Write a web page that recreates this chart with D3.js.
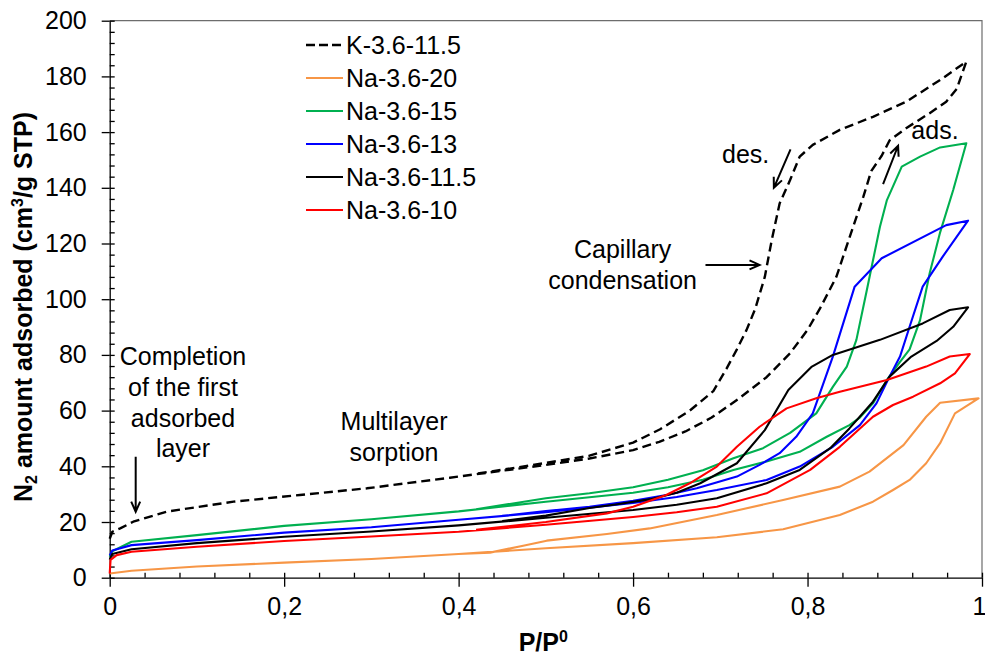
<!DOCTYPE html>
<html>
<head>
<meta charset="utf-8">
<script src="https://cdn.jsdelivr.net/npm/d3@7"></script>
<style>
  body { margin: 0; background: #fff; }
  svg text { font-family: "Liberation Sans", Arial, sans-serif; fill: #000; }
</style>
</head>
<body>
<div id="chart"></div>
<script>
// series names, in legend order
var seriesNames = ["K-3.6-11.5", "Na-3.6-20", "Na-3.6-15", "Na-3.6-13", "Na-3.6-11.5", "Na-3.6-10"];
var seriesColors = ["#000000", "#f79646", "#00b050", "#0000ff", "#000000", "#ff0000"];

// [P/P0, N2 adsorbed] : adsorption branch up to the top, then desorption branch back down
var k_3_6_11_5 = [
    [0, 14], [0.003, 16.5], [0.012, 17.7], [0.027, 20.1], [0.065, 23.7], [0.142, 27.3], [0.218, 29.7],
    [0.295, 32.1], [0.39, 35.9], [0.5, 40.5], [0.55, 42.8], [0.6, 45.8], [0.63, 48.8], [0.66, 52.5],
    [0.69, 57.5], [0.72, 64], [0.753, 72], [0.78, 80.6], [0.8, 89], [0.814, 96.5], [0.833, 108],
    [0.848, 122], [0.864, 136.8], [0.873, 146], [0.885, 151.5], [0.894, 157], [0.913, 161.4],
    [0.94, 166.8], [0.959, 170.9], [0.971, 175.5], [0.982, 185.3],
    [0.952, 178.7], [0.913, 170.9], [0.875, 165.5], [0.837, 160.8], [0.806, 155.4], [0.791, 151.2],
    [0.78, 142.8], [0.768, 134.4], [0.759, 121.3], [0.751, 108], [0.74, 96.5], [0.73, 88.9],
    [0.719, 82], [0.707, 75], [0.692, 67], [0.665, 60], [0.631, 53.3], [0.6, 48.5], [0.55, 43.8],
    [0.5, 41.2], [0.42, 37.3]
];
var na_3_6_20 = [
    [0, 1.5], [0.025, 2.5], [0.1, 4], [0.2, 5.4], [0.3, 6.7], [0.4, 8.5], [0.5, 10.6], [0.6, 12.4],
    [0.696, 14.5], [0.772, 17.4], [0.837, 22.5], [0.875, 27.3], [0.898, 31.5], [0.917, 35.1],
    [0.936, 41.1], [0.952, 48.3], [0.969, 59], [0.996, 64.4],
    [0.952, 62.8], [0.936, 57.8], [0.91, 47.6], [0.871, 38.1], [0.837, 32.7], [0.772, 27.9],
    [0.696, 22.5], [0.619, 17.7], [0.57, 15.7], [0.501, 13.3], [0.474, 11.5], [0.436, 9], [0.4, 8.5]
];
var na_3_6_15 = [
    [0, 7.5], [0.003, 9.5], [0.025, 12.9], [0.1, 15.3], [0.2, 18.6], [0.3, 21], [0.4, 23.8],
    [0.5, 27.3], [0.6, 30.5], [0.64, 32.5], [0.68, 35.2], [0.715, 38.7], [0.753, 41.7], [0.791, 45.2],
    [0.822, 50.6], [0.848, 54.8], [0.86, 57.5], [0.875, 62.6], [0.891, 71], [0.906, 77.5], [0.917, 82],
    [0.929, 92.5], [0.94, 109.3], [0.952, 124], [0.967, 139.2], [0.982, 156],
    [0.952, 154.5], [0.929, 151.2], [0.908, 147.6], [0.891, 135.6], [0.883, 126], [0.868, 103.3],
    [0.856, 85.4], [0.845, 75.8], [0.829, 68.5], [0.81, 59], [0.78, 52], [0.749, 46.5], [0.715, 42.9],
    [0.68, 38.6], [0.64, 35.2], [0.6, 32.5], [0.55, 30.3], [0.5, 28.5], [0.42, 24.6]
];
var na_3_6_13 = [
    [0, 8], [0.003, 9.8], [0.025, 11.7], [0.1, 13.5], [0.2, 16.2], [0.3, 18.1], [0.4, 20.8],
    [0.5, 23.5], [0.6, 26.8], [0.65, 29], [0.696, 31.5], [0.753, 35.1], [0.791, 39.9], [0.829, 47],
    [0.86, 54.8], [0.879, 62.6], [0.894, 72.2], [0.906, 79.4], [0.917, 90.1], [0.932, 104.5],
    [0.955, 115.3], [0.984, 128.2],
    [0.959, 126.6], [0.885, 114.7], [0.854, 104.5], [0.829, 79.4], [0.806, 59], [0.787, 50.6],
    [0.768, 44.7], [0.745, 40.5], [0.719, 36.3], [0.673, 32.1], [0.64, 29.8], [0.6, 27.6],
    [0.55, 25.5], [0.5, 23.9], [0.45, 22.2]
];
var na_3_6_11_5 = [
    [0, 6.5], [0.003, 8.5], [0.025, 10.2], [0.1, 12.4], [0.2, 14.7], [0.3, 16.6], [0.4, 18.8],
    [0.5, 21.5], [0.6, 24.3], [0.65, 26.2], [0.696, 28.5], [0.753, 33.9], [0.791, 38.7], [0.826, 46.5],
    [0.848, 53.6], [0.875, 63.2], [0.894, 72.2], [0.919, 79.4], [0.948, 85], [0.967, 90.1],
    [0.984, 97.1],
    [0.963, 96.1], [0.932, 91.3], [0.883, 85.4], [0.829, 80], [0.805, 75.8], [0.778, 67.4],
    [0.751, 53], [0.719, 41.1], [0.677, 33.9], [0.65, 30.5], [0.62, 28.2], [0.58, 26.3],
    [0.55, 25], [0.5, 22.3], [0.45, 20.3]
];
var na_3_6_10 = [
    [0, 1.5], [0.001, 6.4], [0.008, 8.1], [0.025, 9.3], [0.1, 11.1], [0.2, 13.2], [0.3, 14.8],
    [0.4, 16.5], [0.5, 19], [0.6, 21.8], [0.65, 23.5], [0.696, 25.5], [0.753, 30.3], [0.803, 38.7],
    [0.837, 47], [0.875, 57.8], [0.898, 62], [0.921, 65], [0.952, 69.8], [0.969, 73.4], [0.986, 80.3],
    [0.963, 79.4], [0.936, 75.8], [0.891, 71], [0.837, 66.8], [0.81, 64.4], [0.776, 60.8],
    [0.745, 54.2], [0.719, 47], [0.696, 39.9], [0.665, 33.9], [0.638, 29.7], [0.6, 25.5],
    [0.57, 23.1], [0.5, 20], [0.42, 17.2]
];
var seriesData = [k_3_6_11_5, na_3_6_20, na_3_6_15, na_3_6_13, na_3_6_11_5, na_3_6_10];

// tick values
var xMajor = [0, 0.2, 0.4, 0.6, 0.8, 1];
var xTickLabels = ["0", "0,2", "0,4", "0,6", "0,8", "1"];
var yMajor = [0, 20, 40, 60, 80, 100, 120, 140, 160, 180, 200];

var width = 985, height = 657;
var plotL = 109.7, plotR = 982, plotT = 20.7, plotB = 577.7;

var svg = d3.select("#chart")
    .append("svg")
    .attr("width", width)
    .attr("height", height);

var x = d3.scaleLinear().domain([0, 1]).range([plotL, plotR]);
var y = d3.scaleLinear().domain([0, 200]).range([plotB, plotT]);

var xMinor = d3.range(0, 1.0001, 0.04);
var yMinor = d3.range(0, 200.01, 4);

// frame top and right (grey)
svg.append("path")
    .attr("d", "M" + plotL + "," + plotT + "H" + plotR + "V" + plotB)
    .attr("fill", "none")
    .attr("stroke", "#6d6d6d")
    .attr("stroke-width", 1.2);

// inner minor ticks
svg.append("g")
    .attr("transform", "translate(0," + plotB + ")")
    .call(d3.axisTop(x).tickValues(xMinor).tickSize(5).tickFormat(""))
    .call(function (g) { g.select(".domain").remove(); });
svg.append("g")
    .attr("transform", "translate(" + plotL + ",0)")
    .call(d3.axisRight(y).tickValues(yMinor).tickSize(5).tickFormat(""))
    .call(function (g) { g.select(".domain").remove(); });

// main axes with outer major ticks
var xAxis = svg.append("g")
    .attr("transform", "translate(0," + plotB + ")")
    .call(d3.axisBottom(x).tickValues(xMajor).tickSize(9).tickSizeOuter(0).tickPadding(11)
        .tickFormat(function (d, i) { return xTickLabels[i]; }));
svg.append("g")
    .attr("transform", "translate(" + plotL + ",0)")
    .call(d3.axisLeft(y).tickValues(yMajor).tickSize(8).tickSizeOuter(0).tickPadding(15));

svg.selectAll(".tick line, .domain").attr("stroke", "#000").attr("stroke-width", 1.3);
svg.selectAll(".tick text")
    .style("font-family", "'Liberation Sans', Arial, sans-serif")
    .style("font-size", "25px")
    .attr("fill", "#000");
// last label sits against the right edge
xAxis.selectAll(".tick text").filter(function (d) { return d == 1; }).attr("dx", -3);

// curves
var line = d3.line()
    .x(function (d) { return x(d[0]); })
    .y(function (d) { return y(d[1]); });

svg.append("g").selectAll("path")
    .data(seriesData)
    .enter().append("path")
    .attr("d", line)
    .attr("fill", "none")
    .attr("stroke", function (d, i) { return seriesColors[i]; })
    .attr("stroke-width", function (d, i) { return i == 0 ? 2.4 : 2.1; })
    .attr("stroke-dasharray", function (d, i) { return i == 0 ? "9,5" : null; })
    .attr("stroke-linejoin", "round");

// legend
var legend = svg.append("g").selectAll("g")
    .data(seriesNames)
    .enter().append("g")
    .attr("transform", function (d, i) { return "translate(306," + (45 + i * 33) + ")"; });
legend.append("line")
    .attr("x1", 0).attr("x2", 37)
    .attr("stroke", function (d, i) { return seriesColors[i]; })
    .attr("stroke-width", function (d, i) { return i == 0 ? 2.4 : 2.1; })
    .attr("stroke-dasharray", function (d, i) { return i == 0 ? "9,4" : null; });
legend.append("text")
    .attr("x", 40).attr("y", 8.5)
    .style("font-size", "25px")
    .text(function (d) { return d; });

// axis titles
svg.append("text")
    .attr("x", x(0.497)).attr("y", 651)
    .attr("text-anchor", "middle")
    .style("font-size", "25px").style("font-weight", "bold")
    .call(function (t) {
        t.append("tspan").text("P/P");
        t.append("tspan").attr("dy", -9).style("font-size", "16px").text("0");
    });

svg.append("text")
    .attr("transform", "translate(32,307) rotate(-90)")
    .attr("text-anchor", "middle")
    .style("font-size", "25px").style("font-weight", "bold")
    .call(function (t) {
        t.append("tspan").text("N");
        t.append("tspan").attr("dy", 5).style("font-size", "16px").text("2");
        t.append("tspan").attr("dy", -5).text(" amount adsorbed (cm");
        t.append("tspan").attr("dy", -9).style("font-size", "16px").text("3");
        t.append("tspan").attr("dy", 9).text("/g STP)");
    });

// annotations (positions in data units)
var notes = [
    { lines: ["Completion", "of the first", "adsorbed", "layer"], p: 0.084, v: 76.4, anchor: "middle" },
    { lines: ["Multilayer", "sorption"], p: 0.326, v: 53.0, anchor: "middle" },
    { lines: ["Capillary", "condensation"], p: 0.588, v: 114.8, anchor: "middle" },
    { lines: ["des."], p: 0.702, v: 148.8, anchor: "start" },
    { lines: ["ads."], p: 0.919, v: 157.4, anchor: "start" }
];
notes.forEach(function (n) {
    var t = svg.append("text")
        .attr("text-anchor", n.anchor)
        .style("font-size", "25px");
    n.lines.forEach(function (s, i) {
        t.append("tspan").attr("x", x(n.p)).attr("y", y(n.v) + i * 30.8).text(s);
    });
});

var arrows = [
    { p1: 0.0298, v1: 43.4, p2: 0.0298, v2: 23.7 },
    { p1: 0.683, v1: 112.3, p2: 0.745, v2: 112.3 },
    { p1: 0.7805, v1: 153.8, p2: 0.7614, v2: 140 },
    { p1: 0.8866, v1: 141.3, p2: 0.9038, v2: 155.1 }
];
arrows.forEach(function (a) {
    var x1 = x(a.p1), y1 = y(a.v1), x2 = x(a.p2), y2 = y(a.v2);
    var ang = Math.atan2(y2 - y1, x2 - x1);
    var h = 11, spread = 0.42;
    svg.append("path")
        .attr("d", "M" + x1 + "," + y1 + "L" + x2 + "," + y2 +
            "M" + (x2 - h * Math.cos(ang - spread)) + "," + (y2 - h * Math.sin(ang - spread)) +
            "L" + x2 + "," + y2 +
            "L" + (x2 - h * Math.cos(ang + spread)) + "," + (y2 - h * Math.sin(ang + spread)))
        .attr("fill", "none")
        .attr("stroke", "#000")
        .attr("stroke-width", 2);
});
</script>
</body>
</html>
